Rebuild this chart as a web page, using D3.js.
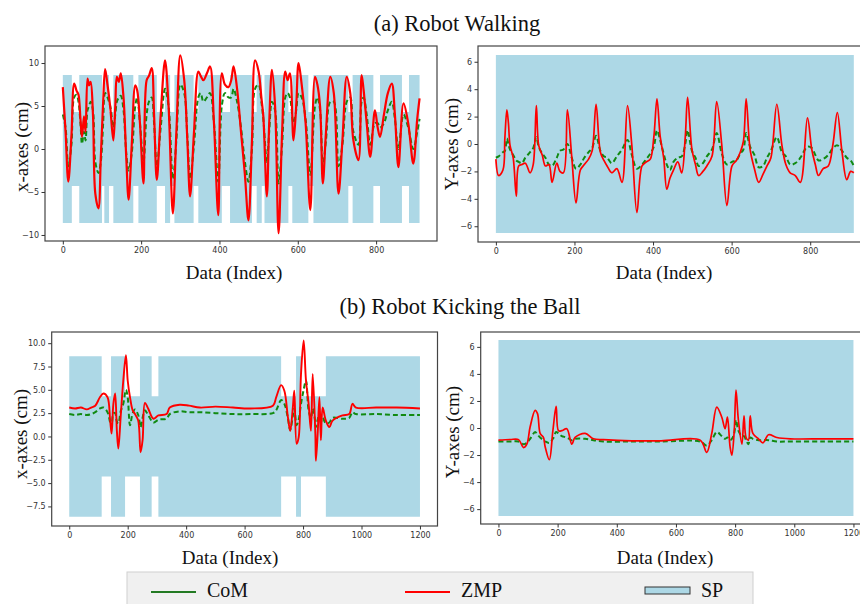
<!DOCTYPE html>
<html>
<head>
<meta charset="utf-8">
<script src="https://cdn.jsdelivr.net/npm/d3@7"></script>
<style>
  body { margin: 0; background: #fff; }
  svg { display: block; }
  .tick text { font-family: "DejaVu Sans", sans-serif; font-size: 8px; fill: #333; }
  .tick line { stroke: #333; }
  .lbl { font-family: "Liberation Serif", "Times New Roman", serif; fill: #111; }
</style>
</head>
<body>
<svg id="chart" width="860" height="604"></svg>
<script>
// (a) walking, x direction
const walkXIdx = [0, 7, 14, 22, 29, 35, 40, 45, 49, 54, 58, 63, 67, 71, 77, 83, 91, 97, 103, 108, 114, 121, 129, 134, 138, 143, 148, 155, 162, 168, 176, 185, 190, 197, 206, 214, 220, 227, 233, 240, 250, 261, 270, 281, 290, 300, 310, 318, 325, 335, 346, 352, 359, 368, 376, 386, 397, 406, 414, 423, 430, 436, 445, 455, 465, 474, 483, 491, 500, 507, 512, 521, 527, 534, 542, 551, 560, 568, 574, 580, 589, 596, 602, 610, 620, 632, 644, 650, 657, 664, 672, 683, 692, 704, 714, 725, 734, 742, 755, 763, 768, 776, 785, 797, 804, 810, 820, 830, 840, 848, 857, 870, 882, 895, 905, 911];
const walkXZmp = [7.2, 2.0, -3.8, 1.5, 7.6, 6.8, 6.3, 3.5, 1.4, 3.8, 2.0, 8.2, 7.4, 7.8, 4.0, -5.2, -6.9, -1.0, 5.5, 9.3, 7.5, 4.9, 1.0, 5.0, 8.4, 7.8, 8.8, 6.0, -1.0, -5.9, 0.5, 7.4, 6.8, 3.0, -4.0, 8.0, 8.5, 9.4, 4.0, -3.6, 4.0, 10.3, 5.0, -7.5, 2.0, 10.9, 8.0, 1.0, -5.5, 2.0, 9.0, 8.5, 8.0, 8.8, 9.6, 3.0, -7.7, 8.8, 7.5, 7.2, 8.0, 9.6, 7.0, 2.0, -3.0, -8.3, 1.0, 10.3, 9.0, 6.0, 3.8, -5.5, 3.0, 9.2, 5.0, -9.8, 2.0, 9.0, 8.0, 8.8, 1.0, 5.0, 10.0, 7.5, 3.0, -7.1, 8.4, 7.5, 4.9, -4.0, 2.0, 8.4, 6.5, -5.2, 1.0, 8.4, 6.5, 1.0, -1.3, 8.6, 6.9, 3.0, -0.9, 4.5, 2.5, 1.4, 4.0, 6.5, 7.6, 4.0, -2.1, 5.3, 3.0, -1.7, 3.5, 5.9];
const walkXCom = [4.0, 2.5, -2.0, 0.5, 6.0, 6.3, 5.5, 3.0, 0.6, 2.0, 1.0, 4.5, 5.0, 5.5, 4.5, -1.5, -2.8, -1.5, 3.0, 6.5, 6.0, 5.0, 2.5, 4.0, 5.5, 6.0, 6.2, 4.5, -0.5, -2.5, -0.5, 5.0, 6.0, 3.0, -1.5, 4.0, 5.5, 6.0, 3.0, -2.0, 2.5, 7.0, 5.0, -3.5, 1.0, 7.5, 6.5, 1.5, -3.5, 0.5, 6.0, 6.5, 5.5, 6.0, 6.5, 3.0, -3.8, 5.0, 6.5, 6.0, 6.0, 7.0, 5.5, 2.5, -1.5, -3.8, 0.0, 7.0, 7.5, 5.5, 3.5, -1.5, 2.0, 5.5, 4.5, -4.0, 0.5, 6.0, 6.5, 6.0, 3.0, 4.5, 6.5, 6.0, 3.5, -3.0, 5.0, 6.0, 4.5, -2.0, 1.0, 5.5, 5.5, -2.0, 0.5, 5.5, 6.0, 2.0, 0.5, 5.5, 6.0, 4.0, 0.5, 3.0, 3.0, 2.5, 3.0, 4.5, 5.5, 3.5, 0.0, 4.0, 2.5, 0.0, 2.0, 3.5];

// (a) walking, y direction
const walkYIdx = [0, 7, 18, 23, 28, 32, 36, 44, 52, 58, 66, 75, 87, 95, 103, 109, 118, 126, 135, 143, 155, 163, 172, 182, 193, 204, 215, 225, 236, 245, 255, 266, 275, 283, 295, 308, 321, 335, 346, 359, 372, 383, 393, 402, 410, 418, 427, 435, 443, 452, 463, 473, 482, 488, 499, 508, 516, 527, 537, 550, 562, 575, 588, 601, 612, 622, 630, 637, 647, 658, 669, 680, 690, 700, 715, 728, 738, 749, 762, 775, 793, 804, 813, 821, 833, 846, 858, 869, 881, 893, 903, 911];
const walkYZmp = [-1.1, -2.3, -1.9, 0.5, 2.5, 1.5, -0.1, -1.0, -3.8, -1.6, -1.5, -1.4, -2.1, -1.5, 2.8, -0.1, -0.8, -1.6, -1.5, -2.8, -1.4, -2.0, -2.1, 2.5, -0.9, -4.3, -1.9, -1.5, -1.1, -0.5, 2.9, -0.6, -1.2, -1.6, -2.1, -1.8, -2.8, 2.8, -0.1, -5.0, -1.6, -1.3, -1.1, 0.5, 3.3, 0.6, -1.0, -3.3, -2.5, -1.9, -1.3, -2.1, 0.5, 3.4, -0.4, -1.5, -2.3, -2.0, -1.6, -0.9, 3.1, -0.1, -4.5, -1.6, -1.2, -0.6, 0.2, 3.3, -0.4, -1.8, -2.8, -2.2, -1.6, -1.0, 2.9, -0.1, -1.5, -2.1, -2.3, -2.8, 1.9, -0.4, -1.5, -2.3, -1.8, -1.6, 0.0, 2.3, -0.6, -2.6, -2.0, -2.1];
const walkYCom = [-1.0, -0.9, -0.6, -0.5, 0.4, 0.0, -0.4, -0.8, -1.2, -1.3, -1.4, -1.0, -0.6, -0.3, 0.5, -0.2, -0.7, -1.0, -1.5, -1.6, -1.0, -0.5, -0.4, 0.0, -1.0, -1.8, -1.5, -1.0, -0.6, -0.3, 0.6, -0.5, -0.9, -1.0, -1.4, -0.9, -0.4, 0.3, -0.8, -1.8, -1.5, -1.1, -0.7, -0.2, 1.0, 0.3, -0.7, -1.5, -1.9, -1.3, -1.0, -0.9, 0.0, 1.0, -0.5, -1.0, -1.6, -1.4, -0.9, -0.4, 0.8, -0.7, -1.5, -1.3, -1.2, -0.7, -0.4, 0.8, -0.2, -0.8, -1.7, -1.6, -1.0, -0.5, 0.5, -0.6, -0.9, -1.5, -1.4, -1.0, -0.2, -0.3, -0.8, -1.2, -1.1, -0.8, -0.3, -0.1, -0.5, -1.0, -1.2, -1.6];

// (b) kicking, x direction
const kickXIdx = [0, 20, 40, 60, 75, 89, 105, 117, 131, 140, 145, 151, 157, 163, 168, 176, 185, 194, 200, 208, 217, 225, 236, 244, 251, 259, 270, 288, 305, 333, 344, 378, 410, 447, 500, 560, 620, 697, 708, 725, 736, 748, 756, 765, 770, 778, 785, 793, 802, 810, 819, 827, 833, 842, 844, 850, 856, 861, 867, 878, 890, 901, 935, 958, 969, 981, 1050, 1120, 1200];
const kickXZmp = [3.1, 3.0, 3.1, 2.9, 3.1, 3.3, 4.2, 4.6, 4.2, 1.7, 0.3, 3.5, 4.6, 0.6, -1.3, 2.1, 6.0, 8.7, 6.0, 4.2, 2.8, 2.4, 1.7, -1.7, -0.4, 3.6, 3.0, 1.9, 2.25, 2.4, 3.1, 3.4, 3.3, 3.1, 3.2, 3.1, 3.0, 3.3, 4.2, 5.5, 4.9, 2.1, 0.6, 3.1, 4.9, -0.8, -0.1, 6.7, 10.3, 6.0, 3.5, 0.6, 6.7, 0.3, -2.6, 0.3, 4.2, -0.4, 3.1, 1.7, 1.0, 1.7, 2.25, 2.4, 3.5, 3.1, 3.1, 3.1, 3.0];
const kickXCom = [2.4, 2.3, 2.4, 2.3, 2.4, 2.6, 3.0, 3.1, 2.6, 1.5, 1.0, 2.5, 2.5, 1.6, 1.4, 2.7, 3.5, 5.0, 4.2, 1.2, 2.5, 2.9, 2.3, 1.0, 2.0, 2.8, 2.3, 1.5, 1.8, 1.9, 2.4, 2.7, 2.6, 2.6, 2.5, 2.4, 2.4, 2.5, 2.8, 3.9, 3.5, 2.0, 0.7, 2.2, 3.0, 1.2, 1.8, 3.5, 5.0, 6.0, 2.8, 2.0, 3.0, 1.5, 1.0, 1.8, 2.5, 1.5, 2.0, 1.4, 1.5, 2.0, 1.9, 2.0, 2.6, 2.4, 2.4, 2.3, 2.3];

// (b) kicking, y direction
const kickYIdx = [0, 40, 68, 85, 96, 107, 124, 132, 141, 152, 158, 172, 184, 195, 203, 214, 231, 248, 259, 293, 321, 355, 450, 550, 682, 704, 721, 738, 755, 766, 774, 783, 789, 797, 803, 811, 823, 830, 837, 845, 851, 860, 879, 894, 913, 941, 986, 1100, 1200];
const kickYZmp = [-0.9, -0.85, -0.86, -1.45, -1.2, 0.07, 1.3, 1.06, -0.4, -0.7, -1.4, -2.35, -0.2, 1.6, -0.2, -0.2, -0.05, -1.2, -0.7, -0.4, -0.8, -0.86, -0.95, -0.95, -0.9, -1.8, -0.4, 1.55, 0.8, -0.05, 0.8, -1.4, -2.0, -0.2, 2.8, 0.6, -1.2, 0.9, -0.7, -0.9, 0.9, -0.4, -0.8, -1.1, -0.5, -0.7, -0.8, -0.8, -0.8];
const kickYCom = [-1.0, -1.0, -1.0, -1.2, -1.1, -0.8, -0.3, -0.5, -0.7, -0.9, -1.0, -1.1, -0.8, -0.3, -0.4, -0.6, -0.7, -0.9, -0.8, -0.8, -0.9, -1.0, -1.0, -1.0, -1.0, -1.3, -0.9, -0.3, -0.6, -0.8, -0.7, -0.9, -0.8, -0.4, 0.6, -0.2, -0.6, -0.6, -0.9, -1.2, -0.7, -0.8, -0.9, -0.9, -0.9, -1.0, -1.0, -1.0, -1.0];

// support polygon limits and single-support intervals
const spDouble = [-8.6, 8.6];
const spSingle = [-4.3, 4.3];
const spLateral = [-6.5, 6.5];
const walkSingleSupport = [[23, 42], [100, 106], [118, 129], [180, 193], [240, 261], [274, 285], [334, 346], [406, 427], [483, 495], [508, 515], [576, 586], [627, 640], [729, 740], [793, 810], [866, 884]];
const kickSingleSupport = [[111, 143], [191, 242], [282, 305], [725, 776], [793, 878]];

const walkTicksX = [0, 200, 400, 600, 800];
const kickTicksX = [0, 200, 400, 600, 800, 1000, 1200];
const ticksX10 = [-10, -5, 0, 5, 10];
const ticksX7 = [-7.5, -5, -2.5, 0, 2.5, 5, 7.5, 10];
const ticksY6 = [-6, -4, -2, 0, 2, 4, 6];

const titles = ['(a) Robot Walking', '(b) Robot Kicking the Ball'];
const legendNames = ['CoM', 'ZMP', 'SP'];

const svg = d3.select('#chart');
svg.append('rect').attr('width', 860).attr('height', 604).attr('fill', '#fff');

function spSteps(last, limits, single, gaps) {
  const pts = [{ i: 0, lo: limits[0], hi: limits[1] }];
  gaps.forEach(([a, b]) => {
    pts.push({ i: a, lo: single[0], hi: single[1] });
    pts.push({ i: b, lo: limits[0], hi: limits[1] });
  });
  pts.push({ i: last, lo: limits[0], hi: limits[1] });
  return pts;
}

function drawPanel(p) {
  const x = d3.scaleLinear().domain(p.xDomain).range([p.left, p.right]);
  const y = d3.scaleLinear().domain(p.yDomain).range([p.bottom, p.top]);
  const g = svg.append('g');

  const sp = spSteps(p.last, p.limits, p.single, p.gaps);
  g.append('path')
    .datum(sp)
    .attr('fill', '#add8e6')
    .attr('d', d3.area()
      .curve(d3.curveStepAfter)
      .x(d => x(d.i))
      .y0(d => y(d.lo))
      .y1(d => y(d.hi)));

  const line = d3.line()
    .curve(d3.curveCatmullRom.alpha(0.5))
    .x(d => x(d[0]))
    .y(d => y(d[1]));

  g.append('path')
    .datum(p.idx.map((v, i) => [v, p.com[i]]))
    .attr('fill', 'none')
    .attr('stroke', '#118a11')
    .attr('stroke-width', 2)
    .attr('stroke-dasharray', '5,3')
    .attr('d', line);

  g.append('path')
    .datum(p.idx.map((v, i) => [v, p.zmp[i]]))
    .attr('fill', 'none')
    .attr('stroke', '#ff0000')
    .attr('stroke-width', p.zmpWidth)
    .attr('stroke-linejoin', 'round')
    .attr('d', line);

  g.append('rect')
    .attr('x', p.left).attr('y', p.top)
    .attr('width', p.right - p.left).attr('height', p.bottom - p.top)
    .attr('fill', 'none').attr('stroke', '#444').attr('stroke-width', 1.2);

  g.append('g')
    .attr('transform', `translate(0,${p.bottom})`)
    .call(d3.axisBottom(x).tickValues(p.xTicks).tickFormat(d3.format('d')).tickSize(3.5).tickPadding(3))
    .call(a => a.select('.domain').remove());

  g.append('g')
    .attr('transform', `translate(${p.left},0)`)
    .call(d3.axisLeft(y).tickValues(p.yTicks).tickFormat(d3.format(p.yFormat)).tickSize(3.5).tickPadding(2.5))
    .call(a => a.select('.domain').remove());

  g.append('text')
    .attr('class', 'lbl')
    .attr('x', p.xLabel[0]).attr('y', p.xLabel[1])
    .attr('text-anchor', 'middle')
    .attr('font-size', 19)
    .text('Data (Index)');

  g.append('text')
    .attr('class', 'lbl')
    .attr('transform', `translate(${p.yLabel[0]},${p.yLabel[1]}) rotate(-90)`)
    .attr('dy', '0.35em')
    .attr('text-anchor', 'middle')
    .attr('font-size', 19)
    .text(p.yText);
}

drawPanel({
  left: 45, right: 437, top: 46, bottom: 241,
  xDomain: [-45.5, 955.5], yDomain: [-10.7, 11.98],
  idx: walkXIdx, zmp: walkXZmp, com: walkXCom, zmpWidth: 2.2,
  last: 911, limits: spDouble, single: spSingle, gaps: walkSingleSupport,
  xTicks: walkTicksX, yTicks: ticksX10, yFormat: 'd',
  xLabel: [234, 279], yLabel: [21, 147], yText: 'x-axes (cm)'
});

drawPanel({
  left: 478, right: 871.7, top: 46, bottom: 242,
  xDomain: [-45.5, 956.5], yDomain: [-7.15, 7.15],
  idx: walkYIdx, zmp: walkYZmp, com: walkYCom, zmpWidth: 1.7,
  last: 911, limits: spLateral, single: spLateral, gaps: [],
  xTicks: walkTicksX, yTicks: ticksY6, yFormat: 'd',
  xLabel: [664, 279], yLabel: [451, 144], yText: 'Y-axes (cm)'
});

drawPanel({
  left: 51.7, right: 437.5, top: 332, bottom: 526,
  xDomain: [-60, 1260], yDomain: [-9.6, 11.2],
  idx: kickXIdx, zmp: kickXZmp, com: kickXCom, zmpWidth: 1.9,
  last: 1200, limits: spDouble, single: spSingle, gaps: kickSingleSupport,
  xTicks: kickTicksX, yTicks: ticksX7, yFormat: '.1f',
  xLabel: [230, 564], yLabel: [20, 434], yText: 'x-axes (cm)'
});

drawPanel({
  left: 480.7, right: 871.2, top: 332, bottom: 524,
  xDomain: [-60, 1260], yDomain: [-7.1, 7.1],
  idx: kickYIdx, zmp: kickYZmp, com: kickYCom, zmpWidth: 1.7,
  last: 1200, limits: spLateral, single: spLateral, gaps: [],
  xTicks: kickTicksX, yTicks: ticksY6, yFormat: 'd',
  xLabel: [665, 564], yLabel: [452, 432], yText: 'Y-axes (cm)'
});

// section titles
svg.selectAll('.title')
  .data(titles)
  .enter()
  .append('text')
  .attr('class', 'lbl title')
  .attr('x', (d, i) => i === 0 ? 457 : 460)
  .attr('y', (d, i) => i === 0 ? 31 : 314)
  .attr('text-anchor', 'middle')
  .attr('font-size', 22.5)
  .text(d => d);

// legend
const legend = svg.append('g');
legend.append('rect')
  .attr('x', 127).attr('y', 572)
  .attr('width', 626).attr('height', 40)
  .attr('fill', '#f0f0f0').attr('stroke', '#cfcfcf');

const legendX = [151, 405, 645];
legend.append('line')
  .attr('x1', legendX[0]).attr('x2', legendX[0] + 45)
  .attr('y1', 592).attr('y2', 592)
  .attr('stroke', '#237a23').attr('stroke-width', 2);
legend.append('line')
  .attr('x1', legendX[1]).attr('x2', legendX[1] + 45)
  .attr('y1', 592).attr('y2', 592)
  .attr('stroke', '#ff0000').attr('stroke-width', 2);
legend.append('rect')
  .attr('x', legendX[2]).attr('y', 587)
  .attr('width', 45).attr('height', 7)
  .attr('fill', '#add8e6').attr('stroke', '#333').attr('stroke-width', 1);

legend.selectAll('.ltext')
  .data(legendNames)
  .enter()
  .append('text')
  .attr('class', 'lbl ltext')
  .attr('x', (d, i) => legendX[i] + 56)
  .attr('y', 597)
  .attr('font-size', 20)
  .text(d => d);
</script>
</body>
</html>
